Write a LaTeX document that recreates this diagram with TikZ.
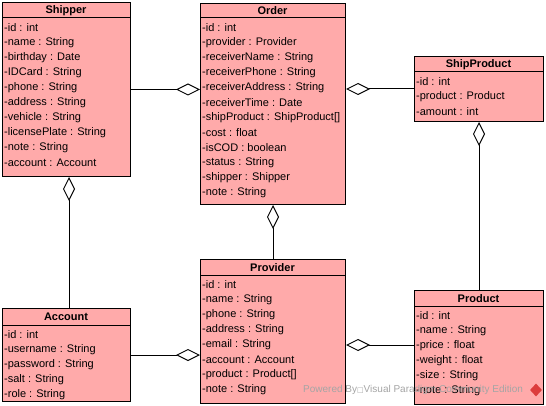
\documentclass[tikz,border=0pt]{standalone}
\usepackage{fontspec}
\setmainfont{Liberation Sans}
\newfontfamily\symfont{DejaVu Sans}
\usetikzlibrary{arrows.meta,shapes.geometric}
\definecolor{classfill}{RGB}{255,170,170}
\definecolor{wmgray}{RGB}{165,165,165}
\definecolor{wmred}{RGB}{220,60,60}
\tikzset{
  classrect/.style={draw=black, line width=1pt, fill=classfill, inner sep=0pt, rectangle},
  classline/.style={draw=black, line width=1pt},
  titletext/.style={inner sep=0pt, font=\fontsize{11}{13}\selectfont\bfseries},
  rowtext/.style={inner sep=0pt, anchor=west, font=\fontsize{11}{13}\selectfont},
  agg/.style={draw=black, line width=1pt, -{Diamond[open,fill=white,length=24pt,width=12pt]}},
  watermark/.style={inner sep=0pt, anchor=west, text=wmgray, font=\fontsize{10}{12}\selectfont},
  wmlogo/.style={shape=diamond, fill=wmred, inner sep=0pt, minimum width=12pt, minimum height=13pt}
}
% name, title, x1, top, x2, sep, bottom, rows
\newcommand{\classbox}[8]{%
  \node[classrect, minimum width={#5-#3}, minimum height={#7-#4}, anchor=north west] (#1) at (#3,#4) {};
  \draw[classline] (#3,#6) -- (#5,#6);
  \node[titletext] (#1-title) at ({(#3+#5)/2},{(#4+#6)/2+0.5}) {#2};
  \foreach \r [count=\i] in {#8} {
    \node[rowtext] (#1-\i) at ({#3+2},{#6+9.5+15*(\i-1)}) {\r};
  }
}
\begin{document}
\begin{tikzpicture}[x=1pt,y=-1pt]
\useasboundingbox[fill=white] (0,0) rectangle (546,406);

\classbox{shipper}{Shipper}{2}{2}{130}{18}{176}{-id : int,-name : String,-birthday : Date,-IDCard : String,-phone : String,-address : String,-vehicle : String,-licensePlate : String,-note : String,-account : Account}
\classbox{order}{Order}{200}{3}{345}{18}{204}{-id : int,-provider : Provider,-receiverName : String,-receiverPhone : String,-receiverAddress : String,-receiverTime : Date,-shipProduct : ShipProduct[],-cost : float,-isCOD : boolean,-status : String,-shipper : Shipper,-note : String}
\classbox{shipproduct}{ShipProduct}{414}{56}{543}{72}{121}{-id : int,-product : Product,-amount : int}
\classbox{account}{Account}{2}{308}{130}{325}{401}{-id : int,-username : String,-password : String,-salt : String,-role : String}
\classbox{provider}{Provider}{200}{259}{345}{275}{403}{-id : int,-name : String,-phone : String,-address : String,-email : String,-account : Account,-product : Product[],-note : String}
\classbox{product}{Product}{414}{290}{543}{306}{404}{-id : int,-name : String,-price : float,-weight : float,-size : String,-note : String}

\coordinate (sa) at (69,0);
\coordinate (pp) at (0,345);

\draw[agg] (shipper.east) -- (order.west |- shipper.east);
\draw[agg] (account.north -| sa) -- (shipper.south -| sa);
\draw[agg] (provider.north) -- (order.south);
\draw[agg] (shipproduct.west) -- (order.east |- shipproduct.west);
\draw[agg] (product.north -| shipproduct.south) -- (shipproduct.south);
\draw[agg] (account.east) -- (provider.west |- account.east);
\draw[agg] (product.west |- pp) -- (provider.east |- pp);

\node[watermark] (wm) at (303,390) {Powered By{\symfont\fontsize{7}{8}\selectfont □}Visual Paradigm Community Edition};
\node[wmlogo] (logo) at (536,390) {};
\end{tikzpicture}
\end{document}
